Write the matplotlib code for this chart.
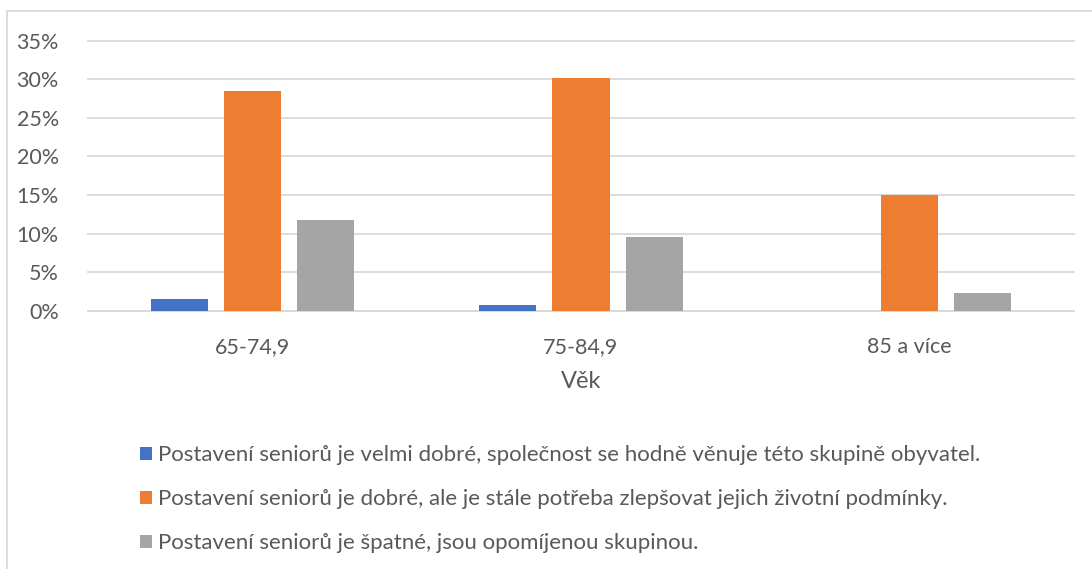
import numpy as np
import matplotlib
matplotlib.use("Agg")
from matplotlib import pyplot as plt
from matplotlib.ticker import PercentFormatter
from matplotlib.patches import Rectangle

plt.rcParams['font.family'] = ['Lato', 'DejaVu Sans']

# data
categories = ["65-74,9", "75-84,9", "85 a více"]
series_names = [
    "Postavení seniorů je velmi dobré, společnost se hodně věnuje této skupině obyvatel.",
    "Postavení seniorů je dobré, ale je stále potřeba zlepšovat jejich životní podmínky.",
    "Postavení seniorů je špatné, jsou opomíjenou skupinou.",
]
velmi_dobre = [1.5, 0.7, 0.0]
dobre = [28.5, 30.2, 15.0]
spatne = [11.8, 9.5, 2.3]
colors = ["#4472C4", "#ED7D31", "#A5A5A5"]

text_col = "#595959"
grid_col = "#D9D9D9"

fig = plt.figure(figsize=(10.92, 5.69), dpi=100)
ax = fig.add_axes([88 / 1092, 1 - 310.7 / 569, (1074 - 88) / 1092, 270 / 569])

x = np.arange(len(categories))
step = 0.2226
width = 0.174
handles = []
for i, (vals, c) in enumerate(zip([velmi_dobre, dobre, spatne], colors)):
    b = ax.bar(x + (i - 1) * step, vals, width, color=c, zorder=3)
    handles.append(b)

ax.set_xlim(-0.5, len(categories) - 0.5)
ax.set_ylim(0, 35)
ax.set_yticks(np.arange(0, 36, 5))
ax.yaxis.set_major_formatter(PercentFormatter(decimals=0))
ax.grid(axis='y', color=grid_col, linewidth=1.3, zorder=0)
for gl in ax.get_ygridlines():
    gl.set_clip_on(False)
for s in ['top', 'right', 'left']:
    ax.spines[s].set_visible(False)
ax.spines['bottom'].set_color(grid_col)
ax.spines['bottom'].set_linewidth(1.3)
ax.tick_params(axis='both', length=0, labelsize=15.5, colors=text_col)
ax.tick_params(axis='y', pad=21)
ax.tick_params(axis='x', pad=19)
ax.set_xticks(x)
ax.set_xticklabels(categories)
ax.set_xlabel("Věk", fontsize=17, color=text_col, labelpad=10)

leg = fig.legend(handles, series_names, loc='upper left', bbox_to_anchor=(129 / 1092, 1 - 434 / 569),
                 frameon=False, fontsize=16, handlelength=0.55, handleheight=0.55,
                 handletextpad=0.25, labelspacing=1.08, borderpad=0)
for t in leg.get_texts():
    t.set_color(text_col)

# chart border
fig.patches.append(Rectangle((7 / 1092, -0.1), 1.2, 1 - 11 / 569 + 0.1, transform=fig.transFigure,
                             fill=False, edgecolor=grid_col, linewidth=1.3))

fig.savefig("out.png", dpi=100)
